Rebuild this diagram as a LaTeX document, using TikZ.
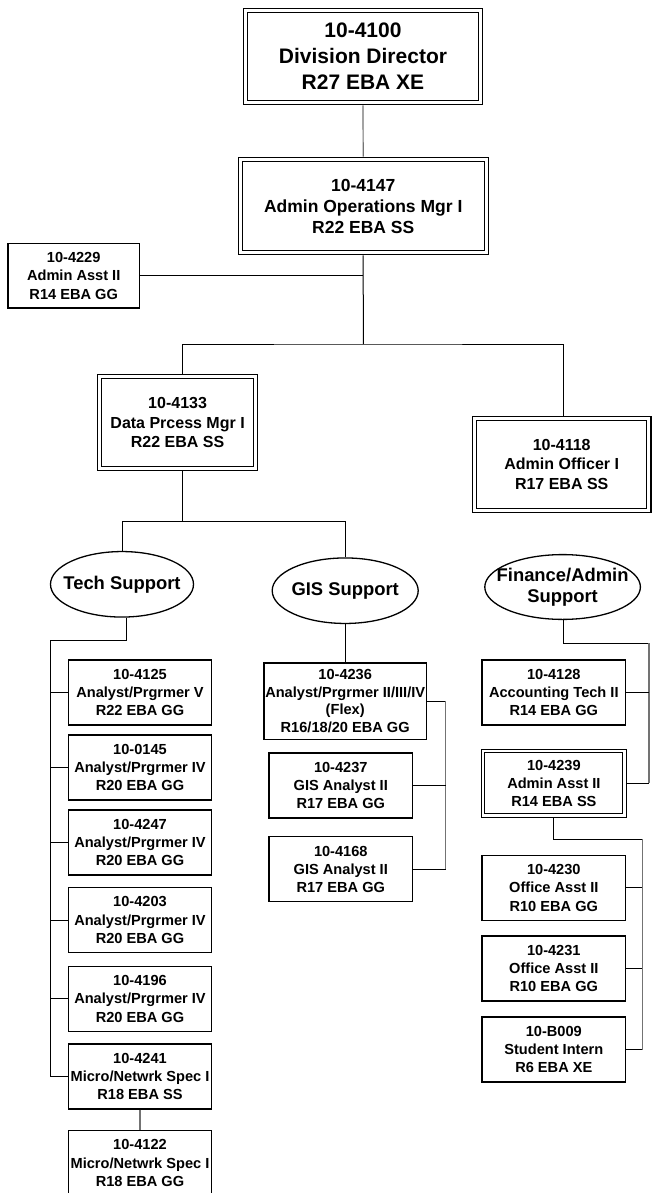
\documentclass[tikz,border=0pt]{standalone}
\usepackage{fontspec}
\setmainfont{Liberation Sans}
\usetikzlibrary{shapes.geometric}
\begin{document}
\begin{tikzpicture}[x=1pt,y=-1pt,
 box/.style={draw, line width=1.3pt, rectangle, inner sep=0pt, align=center,
   font=\bfseries\fontsize{14.6}{18.3}\selectfont, minimum width=143.4pt, minimum height=65pt},
 dbox/.style={draw, line width=1.2pt, double, double distance=3pt, outer sep=2.7pt,
   rectangle, inner sep=0pt, align=center},
 ell/.style={draw, ellipse, line width=1.3pt, inner sep=0pt},
 lbl/.style={font=\bfseries\fontsize{18.4}{21}\selectfont, align=center, inner sep=0pt},
 conn/.style={line width=1pt, black},
 gconn/.style={line width=1.2pt, black!55}]
\path[fill=white, use as bounding box] (0,0) rectangle (651,1193);

% upper nodes
\node[dbox, minimum width=235pt, minimum height=92.4pt, font=\bfseries\fontsize{21}{26}\selectfont]
  (dir) at (363,56.5) {10-4100\\Division Director\\R27 EBA XE};
\node[dbox, minimum width=246pt, minimum height=93.2pt, font=\bfseries\fontsize{17.5}{21}\selectfont]
  (ops) at (363.2,206) {10-4147\\Admin Operations Mgr I\\R22 EBA SS};
\node[box, minimum width=131.4pt, minimum height=64.7pt] (aa) at (73.7,275.7) {10-4229\\Admin Asst II\\R14 EBA GG};
\node[dbox, minimum width=155.8pt, minimum height=92pt, font=\bfseries\fontsize{16}{19.7}\selectfont]
  (dp) at (177.6,422.5) {10-4133\\Data Prcess Mgr I\\R22 EBA SS};
\node[dbox, minimum width=174.3pt, minimum height=92pt, font=\bfseries\fontsize{16}{19.2}\selectfont]
  (ao) at (561.7,464.3) {10-4118\\Admin Officer I\\R17 EBA SS};

% ellipses
\node[ell, minimum width=143pt, minimum height=65.5pt, label={[lbl]center:Tech Support}] (ts) at (122,584.3) {};
\node[ell, minimum width=146pt, minimum height=65.5pt, label={[lbl]center:GIS Support}] (gs) at (345.2,590.7) {};
\node[ell, minimum width=155.6pt, minimum height=64.8pt, label={[lbl]center:{Finance/Admin\\Support}}] (fs) at (562.6,587) {};

% tech column
\node[box] (t1) at (140,692.5) {10-4125\\Analyst/Prgrmer V\\R22 EBA GG};
\node[box] (t2) at (140,767.5) {10-0145\\Analyst/Prgrmer IV\\R20 EBA GG};
\node[box] (t3) at (140,842.5) {10-4247\\Analyst/Prgrmer IV\\R20 EBA GG};
\node[box] (t4) at (140,920.2) {10-4203\\Analyst/Prgrmer IV\\R20 EBA GG};
\node[box] (t5) at (140,998.7) {10-4196\\Analyst/Prgrmer IV\\R20 EBA GG};
\node[box] (t6) at (140,1076.5) {10-4241\\Micro/Netwrk Spec I\\R18 EBA SS};
\node[box] (t7) at (140,1163) {10-4122\\Micro/Netwrk Spec I\\R18 EBA GG};

% GIS column
\node[box, minimum width=162.7pt, minimum height=76.4pt, font=\bfseries\fontsize{14.6}{17.5}\selectfont]
  (g1) at (345.2,701.2) {10-4236\\Analyst/Prgrmer II/III/IV\\(Flex)\\R16/18/20 EBA GG};
\node[box] (g2) at (340.8,785.5) {10-4237\\GIS Analyst II\\R17 EBA GG};
\node[box] (g3) at (340.8,869.3) {10-4168\\GIS Analyst II\\R17 EBA GG};

% finance column
\node[box] (a1) at (553.8,692.5) {10-4128\\Accounting Tech II\\R14 EBA GG};
\node[dbox, line width=1pt, double distance=2.3pt, outer sep=2.15pt, minimum width=141.2pt, minimum height=64.5pt,
  font=\bfseries\fontsize{14.6}{18.3}\selectfont] (a2) at (553.9,783.3) {10-4239\\Admin Asst II\\R14 EBA SS};
\node[box] (a3) at (553.8,887.8) {10-4230\\Office Asst II\\R10 EBA GG};
\node[box] (a4) at (553.8,968.5) {10-4231\\Office Asst II\\R10 EBA GG};
\node[box] (a5) at (553.8,1049.5) {10-B009\\Student Intern\\R6 EBA XE};

% junction coordinates
\coordinate (j1) at (363.3,344);
\coordinate (j2) at (182,521.3);
\coordinate (tc) at (50.3,640);
\coordinate (gv) at (445.7,701.2);
\coordinate (f1) at (649,643.3);
\coordinate (f2) at (642.3,839);

% connectors
\draw[gconn] (dir.south) -- (ops.north);
\draw[conn] (ops.south) -- (j1);
\draw[conn] (aa.east) -- (aa.east -| ops.south);
\draw[conn] ([xshift=4.4pt]dp.north) |- (j1) -| ([xshift=1.3pt]ao.north);
\draw[conn] ([xshift=4.4pt]dp.south) -- (j2);
\draw[conn] (ts.north) |- (j2) -| (gs.north);
\draw[conn] ([xshift=4pt]ts.south) |- (tc) -- (tc |- t6.west) -- (t6.west);
\foreach \n in {1,...,5} \draw[conn] (t\n.west) -- (t\n.west -| tc);
\draw[gconn] (t6.south) -- (t7.north);
\draw[conn] (gs.south) -- (g1.north);
\draw[conn] (g1.east) -- (gv);
\draw[gconn] (gv) -- (gv |- g3.east);
\draw[conn] (g2.east) -- (g2.east -| gv);
\draw[conn] (g3.east) -- (g3.east -| gv);
\draw[conn] ([xshift=0.7pt]fs.south) |- (f1);
\draw[gconn] (f1) -- (f1 |- a2.east);
\draw[conn] (a1.east) -- (a1.east -| f1);
\draw[conn] (a2.east) -- (a2.east -| f1);
\draw[conn] (a2.south) |- (f2);
\draw[gconn] (f2) -- (f2 |- a5.east);
\foreach \n in {3,4,5} \draw[conn] (a\n.east) -- (a\n.east -| f2);
\end{tikzpicture}
\end{document}
